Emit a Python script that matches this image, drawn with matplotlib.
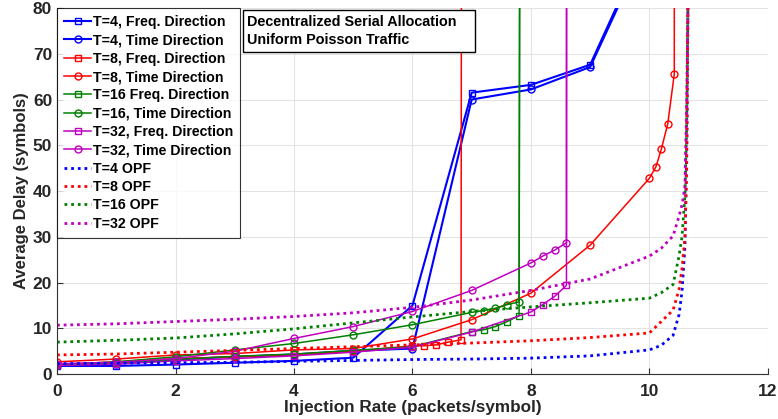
#!/usr/bin/env python3
"""average delay vs injection rate"""
import numpy as np
import matplotlib
matplotlib.use("Agg")
import matplotlib.pyplot as plt
from matplotlib.patches import Rectangle

plt.rcParams['font.family'] = ['Liberation Sans', 'DejaVu Sans']
plt.rcParams['font.weight'] = 'bold'

# measured curves
x_t4 = [0, 1, 2, 3, 4, 5, 6, 7, 8, 9, 10]
t4_freq = [1.8, 1.8, 2.1, 2.5, 2.9, 3.6, 15.0, 61.5, 63.2, 67.6, 96]
t4_time = [1.9, 2.3, 3.2, 3.8, 4.3, 5.1, 5.6, 60.0, 62.2, 67.1, 95]

x_t8_freq = [0, 1, 2, 3, 4, 5, 6, 6.2, 6.4, 6.6, 6.82, 6.86]
t8_freq = [2.1, 2.7, 3.4, 3.8, 4.3, 5.0, 6.2, 6.2, 6.4, 7.0, 7.5, 500]
x_t8_time = [0, 1, 2, 3, 4, 5, 6, 7, 8, 9, 10, 10.11, 10.2, 10.31, 10.42, 10.43]
t8_time = [2.7, 3.3, 4.2, 4.5, 5.3, 5.6, 7.7, 11.9, 17.7, 28.2, 42.8, 45.3,
           49.1, 54.7, 65.6, 500]

x_t16 = [0, 1, 2, 3, 4, 5, 6, 7, 7.2, 7.4, 7.6, 7.8, 7.9]
t16_freq = [2.0, 2.4, 3.2, 3.9, 4.4, 5.2, 6.0, 9.3, 9.7, 10.4, 11.5, 12.8, 900]
t16_time = [2.0, 2.7, 3.8, 5.3, 6.7, 8.6, 10.8, 13.5, 13.9, 14.4, 15.2, 15.8, 700]

x_t32 = [0, 1, 2, 3, 4, 5, 6, 7, 8, 8.2, 8.4, 8.6, 8.62]
t32_freq = [1.9, 2.2, 2.9, 3.4, 4.0, 4.8, 5.9, 9.2, 13.6, 15.2, 17.0, 19.4, 900]
t32_time = [2.3, 2.6, 3.4, 5.0, 7.8, 10.4, 13.7, 18.3, 24.3, 25.8, 27.1, 28.7, 900]

x_opf = [0, 1, 2, 3, 4, 5, 6, 7, 8, 9, 10, 10.2, 10.4, 10.5, 10.55, 10.6,
         10.63, 10.65, 10.66]
opf_t4 = [2.3, 2.4, 2.5, 2.6, 2.8, 3.0, 3.2, 3.3, 3.5, 4.0, 5.3, 6.3, 8.5,
          13, 18, 28, 50, 80, 120]
opf_t8 = [4.2, 4.4, 4.8, 5.2, 5.6, 6.0, 6.4, 6.8, 7.3, 8.0, 9.0, 11.5, 14.0,
          18.5, 23, 30, 45, 80, 120]
opf_t16 = [7.0, 7.4, 7.9, 8.8, 9.9, 11.2, 12.5, 13.7, 14.7, 15.6, 16.6,
           17.8, 19.6, 25.8, 30, 39, 55, 80, 120]
opf_t32 = [10.7, 11.0, 11.5, 12.0, 12.6, 13.4, 14.6, 16.2, 18.3, 20.8, 25.8,
           27.5, 30.2, 34.5, 37, 41, 60, 80, 120]

blue = "#0000ff"
red = "#ff0000"
green = "#008000"
mag = "#bf00bf"

fig = plt.figure(figsize=(7.78, 4.19), dpi=100)
ax = fig.add_axes([0.0733, 0.107, 0.9137, 0.874])

mk = dict(fillstyle='none', markersize=5, markeredgewidth=1.0)
ax.plot(x_t4, t4_freq, '-s', color=blue, lw=1.5, label='T=4, Freq. Direction', **mk)
ax.plot(x_t4, t4_time, '-o', color=blue, lw=1.5, label='T=4, Time Direction', **mk)
ax.plot(x_t8_freq, t8_freq, '-s', color=red, lw=1.1, label='T=8, Freq. Direction', **mk)
ax.plot(x_t8_time, t8_time, '-o', color=red, lw=1.1, label='T=8, Time Direction', **mk)
ax.plot(x_t16, t16_freq, '-s', color=green, lw=1.1, label='T=16 Freq. Direction', **mk)
ax.plot(x_t16, t16_time, '-o', color=green, lw=1.1, label='T=16, Time Direction', **mk)
ax.plot(x_t32, t32_freq, '-s', color=mag, lw=1.1, label='T=32, Freq. Direction', **mk)
ax.plot(x_t32, t32_time, '-o', color=mag, lw=1.1, label='T=32, Time Direction', **mk)

dot = (0, (1, 1.4))
ax.plot(x_opf, opf_t4, color=blue, lw=2, ls=dot, label='T=4 OPF')
ax.plot(x_opf, opf_t8, color=red, lw=2, ls=dot, label='T=8 OPF')
ax.plot(x_opf, opf_t16, color=green, lw=2, ls=dot, label='T=16 OPF')
ax.plot(x_opf, opf_t32, color=mag, lw=2, ls=dot, label='T=32 OPF')

ax.set_xlim(0, 12)
ax.set_ylim(0, 80)
ax.set_xticks(np.arange(0, 13, 2))
ax.set_yticks(np.arange(0, 81, 10))
ax.grid(True, color='#e3e3e3', lw=0.8)
ax.set_axisbelow(True)
ax.tick_params(direction='in', labelsize=12.5, length=4, color='#333333')
ax.tick_params(axis='x', pad=7)
for lab in ax.get_xticklabels() + ax.get_yticklabels():
    lab.set_fontweight('bold')
    lab.set_color('#262626')
ax.spines['top'].set_visible(False)
ax.spines['right'].set_visible(False)
ax.spines['left'].set_color('#333333')
ax.spines['bottom'].set_color('#333333')

ax.set_xlabel('Injection Rate (packets/symbol)', fontsize=12.3,
              fontweight='bold', color='#262626', labelpad=1)
ax.set_ylabel('Average Delay (symbols)', fontsize=12,
              fontweight='bold', color='#262626', labelpad=3)

leg = ax.legend(loc='upper left', bbox_to_anchor=(0.0, 1.0), fontsize=10.2,
                frameon=True, fancybox=False, edgecolor='black',
                handlelength=1.9, handletextpad=0.15, labelspacing=0.305,
                borderpad=0.5, borderaxespad=0.0)
leg.get_frame().set_linewidth(0.8)
for t in leg.get_texts():
    t.set_fontweight('bold')

# annotation box
box = Rectangle((243, 419 - 52), 232, 42, transform=None, fc='white',
                ec='black', lw=1.0, zorder=5)
fig.patches.append(box)
fig.text(247 / 778, 1 - 15 / 419,
         'Decentralized Serial Allocation\nUniform Poisson Traffic',
         ha='left', va='top', fontsize=10.4, fontweight='bold',
         linespacing=1.35, zorder=6)

fig.savefig('out.png', dpi=100)
